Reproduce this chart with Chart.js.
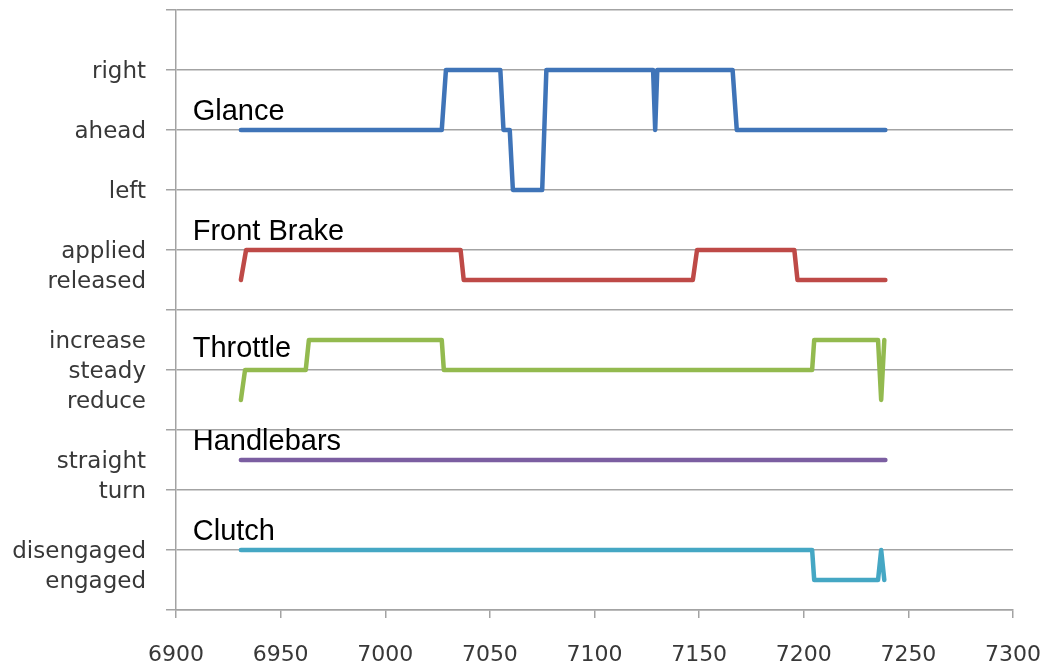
<!DOCTYPE html>
<html>
<head>
<meta charset="utf-8">
<script src="https://cdn.jsdelivr.net/npm/chart.js@4/dist/chart.umd.min.js"></script>
<style>
  html, body { margin: 0; padding: 0; background: #ffffff; }
  #wrap { width: 1044px; height: 668px; position: relative; }
</style>
</head>
<body>
<div id="wrap"><canvas id="chart" width="1044" height="668"></canvas></div>
<script>
// Time axis (x) runs 6900 – 7300; each channel is a step trace on a shared 0–10 level axis.
const xTicks = [6900, 6950, 7000, 7050, 7100, 7150, 7200, 7250, 7300];

// Level axis: value -> state name
const levelValues = [9, 8, 7, 6, 5.5, 4.5, 4, 3.5, 2.5, 2, 1, 0.5];
const levelNames  = ['right', 'ahead', 'left', 'applied', 'released', 'increase', 'steady', 'reduce', 'straight', 'turn', 'disengaged', 'engaged'];

const seriesNames = ['Glance', 'Front Brake', 'Throttle', 'Handlebars', 'Clutch'];

// Glance: ahead = 8, right = 9, left = 7
const glanceX = [6931, 7027, 7029, 7055, 7056.5, 7059.5, 7061, 7075, 7077, 7128, 7129, 7130, 7166, 7168, 7239];
const glanceY = [8, 8, 9, 9, 8, 8, 7, 7, 9, 9, 8, 9, 9, 8, 8];

// Front brake: applied = 6, released = 5.5
const brakeX = [6931, 6933.5, 7036, 7037.5, 7147, 7149, 7195.5, 7197, 7239];
const brakeY = [5.5, 6, 6, 5.5, 5.5, 6, 6, 5.5, 5.5];

// Throttle: increase = 4.5, steady = 4, reduce = 3.5
const throttleX = [6931, 6933, 6962, 6963.5, 7027, 7028, 7204, 7205, 7235.5, 7237, 7238.5];
const throttleY = [3.5, 4, 4, 4.5, 4.5, 4, 4, 4.5, 4.5, 3.5, 4.5];

// Handlebars: straight = 2.5, turn = 2
const handleX = [6931, 7239];
const handleY = [2.5, 2.5];

// Clutch: disengaged = 1, engaged = 0.5
const clutchX = [6931, 7204, 7205, 7235.5, 7237, 7238.5];
const clutchY = [1, 1, 0.5, 0.5, 1, 0.5];

const seriesColors = ['#3f74b8', '#be4a47', '#93ba4f', '#7b5ea1', '#45a7c4'];

function zip(xs, ys) { return xs.map((x, i) => ({ x: x, y: ys[i] })); }

const traces = [
  zip(glanceX, glanceY),
  zip(brakeX, brakeY),
  zip(throttleX, throttleY),
  zip(handleX, handleY),
  zip(clutchX, clutchY)
];

const levelLabel = {};
levelValues.forEach((v, i) => { levelLabel[v] = levelNames[i]; });

// Where each channel's name sits: [x value, level value]
const nameAnchors = [[6908, 8.17], [6908, 6.17], [6908, 4.21], [6908, 2.67], [6908, 1.16]];

const channelNames = {
  id: 'channelNames',
  afterDatasetsDraw(chart) {
    const ctx = chart.ctx;
    const xs = chart.scales.x, ys = chart.scales.y;
    ctx.save();
    ctx.font = '29px "Liberation Sans", Arial, sans-serif';
    ctx.fillStyle = '#000000';
    ctx.textAlign = 'left';
    ctx.textBaseline = 'alphabetic';
    seriesNames.forEach((name, i) => {
      const a = nameAnchors[i];
      ctx.fillText(name, xs.getPixelForValue(a[0]), ys.getPixelForValue(a[1]));
    });
    ctx.restore();
  }
};

const gridGray = '#a3a3a3';
const isWhole = (ctx) => ctx.tick && Math.abs(ctx.tick.value - Math.round(ctx.tick.value)) < 1e-6;

new Chart(document.getElementById('chart'), {
  type: 'scatter',
  data: {
    datasets: traces.map((pts, i) => ({
      label: seriesNames[i],
      data: pts,
      showLine: true,
      borderColor: seriesColors[i],
      backgroundColor: seriesColors[i],
      borderWidth: 4.5,
      pointRadius: 0,
      pointHoverRadius: 0,
      tension: 0,
      borderCapStyle: 'round',
      borderJoinStyle: 'round'
    }))
  },
  options: {
    responsive: false,
    animation: false,
    layout: { padding: { left: 0, right: 31, top: 10, bottom: 0 } },
    plugins: {
      legend: { display: false },
      tooltip: { enabled: false }
    },
    scales: {
      x: {
        type: 'linear',
        min: 6900,
        max: 7300,
        afterBuildTicks(scale) { scale.ticks = xTicks.map(v => ({ value: v })); },
        afterFit(scale) {
          scale.height = 58;
          scale.paddingLeft = 0;
          scale.paddingRight = 0;
        },
        grid: {
          drawOnChartArea: false,
          drawTicks: true,
          tickLength: 8,
          color: gridGray,
          lineWidth: 1.5
        },
        border: { color: gridGray, width: 1.5 },
        ticks: {
          color: '#383838',
          font: { family: '"DejaVu Sans", sans-serif', size: 22 },
          padding: 24,
          maxRotation: 0,
          autoSkip: false,
          callback: (v) => String(v)
        }
      },
      y: {
        type: 'linear',
        min: 0,
        max: 10,
        afterFit(scale) {
          scale.width = 176;
          scale.paddingTop = 0;
          scale.paddingBottom = 0;
        },
        grid: {
          drawTicks: true,
          tickLength: 10,
          color: (ctx) => isWhole(ctx) ? gridGray : 'rgba(0,0,0,0)',
          tickColor: (ctx) => isWhole(ctx) ? gridGray : 'rgba(0,0,0,0)',
          lineWidth: 1.5
        },
        border: { color: gridGray, width: 1.5 },
        ticks: {
          stepSize: 0.5,
          autoSkip: false,
          color: '#383838',
          font: { family: '"DejaVu Sans", sans-serif', size: 23 },
          padding: 20,
          labelOffset: 2,
          callback: (v) => levelLabel[v] || ''
        }
      }
    }
  },
  plugins: [channelNames]
});
</script>
</body>
</html>
